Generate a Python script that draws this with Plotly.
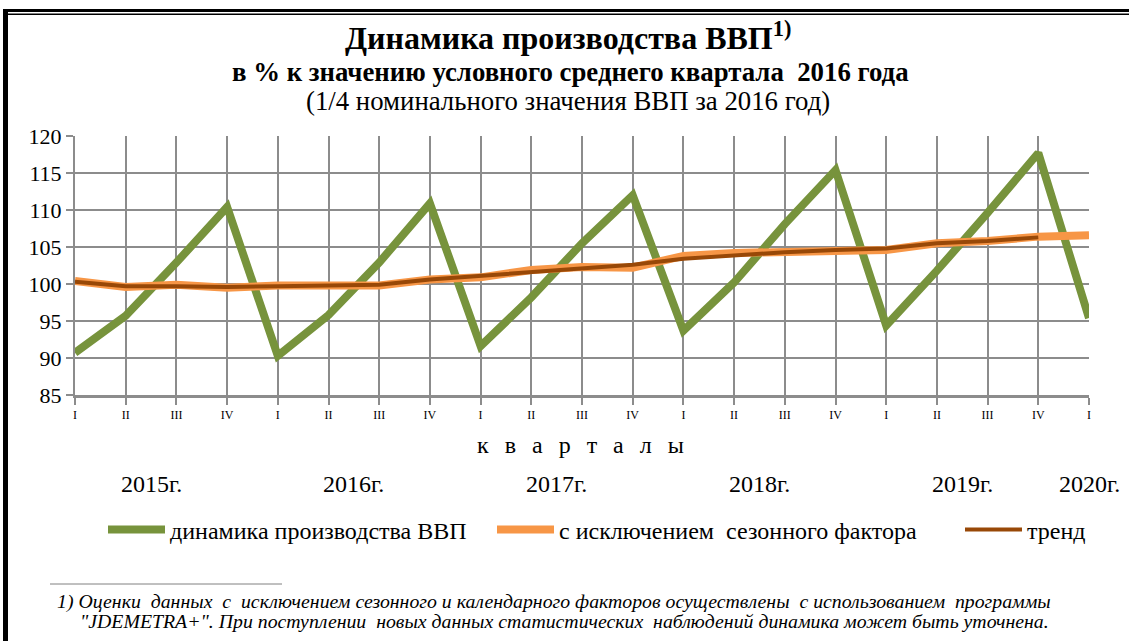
import plotly.graph_objects as go

quarters = ["I", "II", "III", "IV"] * 5 + ["I"]
years = ["2015г.", "2016г.", "2017г.", "2018г.", "2019г.", "2020г."]
year_pos = [1.5, 5.5, 9.5, 13.5, 17.5, 20]

gdp = [90.7, 95.7, 102.9, 110.4, 90.3, 95.8, 102.9, 110.9, 91.6, 98.2, 105.5,
       112.0, 93.7, 100.2, 108.1, 115.4, 94.4, 101.8, 109.6, 117.7, 95.4]
sa = [100.4, 99.6, 99.9, 99.5, 99.8, 99.9, 99.8, 100.6, 100.9, 101.9, 102.3,
      102.2, 103.8, 104.2, 104.3, 104.5, 104.6, 105.5, 105.8, 106.4, 106.6]
trend = [100.3, 99.7, 99.7, 99.6, 99.7, 99.8, 99.9, 100.6, 101.1, 101.7, 102.1,
         102.6, 103.4, 103.9, 104.3, 104.6, 104.8, 105.5, 105.8, 106.3]

x_all = list(range(len(quarters)))

W, H = 1129, 641
L, R, T, B = 75, 1089, 136, 395
def px(p):
    return (p - L) / (R - L)
def py(p):
    return (B - p) / (B - T)

SERIF = "Liberation Serif"

fig = go.Figure()
fig.add_trace(go.Scatter(x=x_all, y=gdp, mode="lines", name="динамика производства ВВП",
                         line=dict(color="#77933c", width=8), legend="legend"))
fig.add_trace(go.Scatter(x=x_all, y=sa, mode="lines", name="с исключением  сезонного фактора",
                         line=dict(color="#f79646", width=8), legend="legend2"))
fig.add_trace(go.Scatter(x=x_all[:len(trend)], y=trend, mode="lines", name="тренд",
                         line=dict(color="#984807", width=4), legend="legend3"))

def ann(text, x, y, size, xref="paper", xanchor="center", **kw):
    return dict(text=text, x=x, y=y, xref=xref, yref="paper", xanchor=xanchor, yanchor="middle",
                showarrow=False, font=dict(family=SERIF, size=size, color="black"), **kw)

annotations = [
    ann("<b>Динамика производства ВВП<sup>1)</sup></b>", px(568), py(36), 32),
    ann("<b>в % к значению условного среднего квартала  2016 года</b>", px(570), py(72), 26.8),
    ann("(1/4 номинального значения ВВП за 2016 год)", px(568), py(101), 26.8),
    ann("\u00a0\u00a0\u2006".join("кварталы"), px(580), py(445), 24),
]
for yl, xp in zip(years, year_pos):
    annotations.append(ann(yl, xp, py(484), 24, xref="x"))
annotations.append(ann("<i>1) Оценки  данных  с  исключением сезонного и календарного факторов осуществлены  с использованием  программы</i>",
                       px(55), py(601), 19.8, xanchor="left"))
annotations.append(ann("<i>\"JDEMETRA+\". При поступлении  новых данных статистических  наблюдений динамика может быть уточнена.</i>",
                       px(78), py(621), 19.8, xanchor="left"))

shapes = [
    dict(type="rect", xref="paper", yref="paper", x0=px(3), x1=px(8), y0=py(641), y1=py(9),
         fillcolor="black", line=dict(width=0)),
    dict(type="rect", xref="paper", yref="paper", x0=px(3), x1=px(1129), y0=py(12), y1=py(9),
         fillcolor="black", line=dict(width=0)),
    dict(type="rect", xref="paper", yref="paper", x0=px(3), x1=px(1129), y0=py(15), y1=py(13.5),
         fillcolor="black", line=dict(width=0)),
    dict(type="line", xref="paper", yref="paper", x0=px(50), x1=px(282), y0=py(584), y1=py(584),
         line=dict(color="#808080", width=1)),
]

def leg(xpix):
    return dict(orientation="h", x=px(xpix), xanchor="left", y=py(530), yanchor="middle",
                font=dict(family=SERIF, size=24, color="black"), itemwidth=57,
                bgcolor="rgba(0,0,0,0)", borderwidth=0)

fig.update_layout(
    width=W, height=H,
    margin=dict(l=L, r=W - R, t=T, b=H - B),
    paper_bgcolor="white", plot_bgcolor="white",
    font=dict(family=SERIF, color="black"),
    showlegend=True,
    legend=leg(103), legend2=leg(492), legend3=leg(960),
    annotations=annotations,
    shapes=shapes,
)
fig.update_xaxes(range=[0, 20], tickmode="array", tickvals=x_all, ticktext=quarters,
                 showgrid=True, gridcolor="#8c8c8c", gridwidth=2,
                 showline=True, linecolor="#8c8c8c", linewidth=3,
                 ticks="outside", ticklen=7, tickwidth=2, tickcolor="#8c8c8c",
                 tickfont=dict(family=SERIF, size=12, color="black"), zeroline=False)
fig.update_yaxes(range=[85, 120], dtick=5, tick0=85,
                 showgrid=True, gridcolor="#8c8c8c", gridwidth=2,
                 showline=True, linecolor="#8c8c8c", linewidth=2,
                 ticks="outside", ticklen=7, tickwidth=2, tickcolor="#8c8c8c",
                 tickfont=dict(family=SERIF, size=22, color="black"), zeroline=False)

fig.write_html("out.html")
